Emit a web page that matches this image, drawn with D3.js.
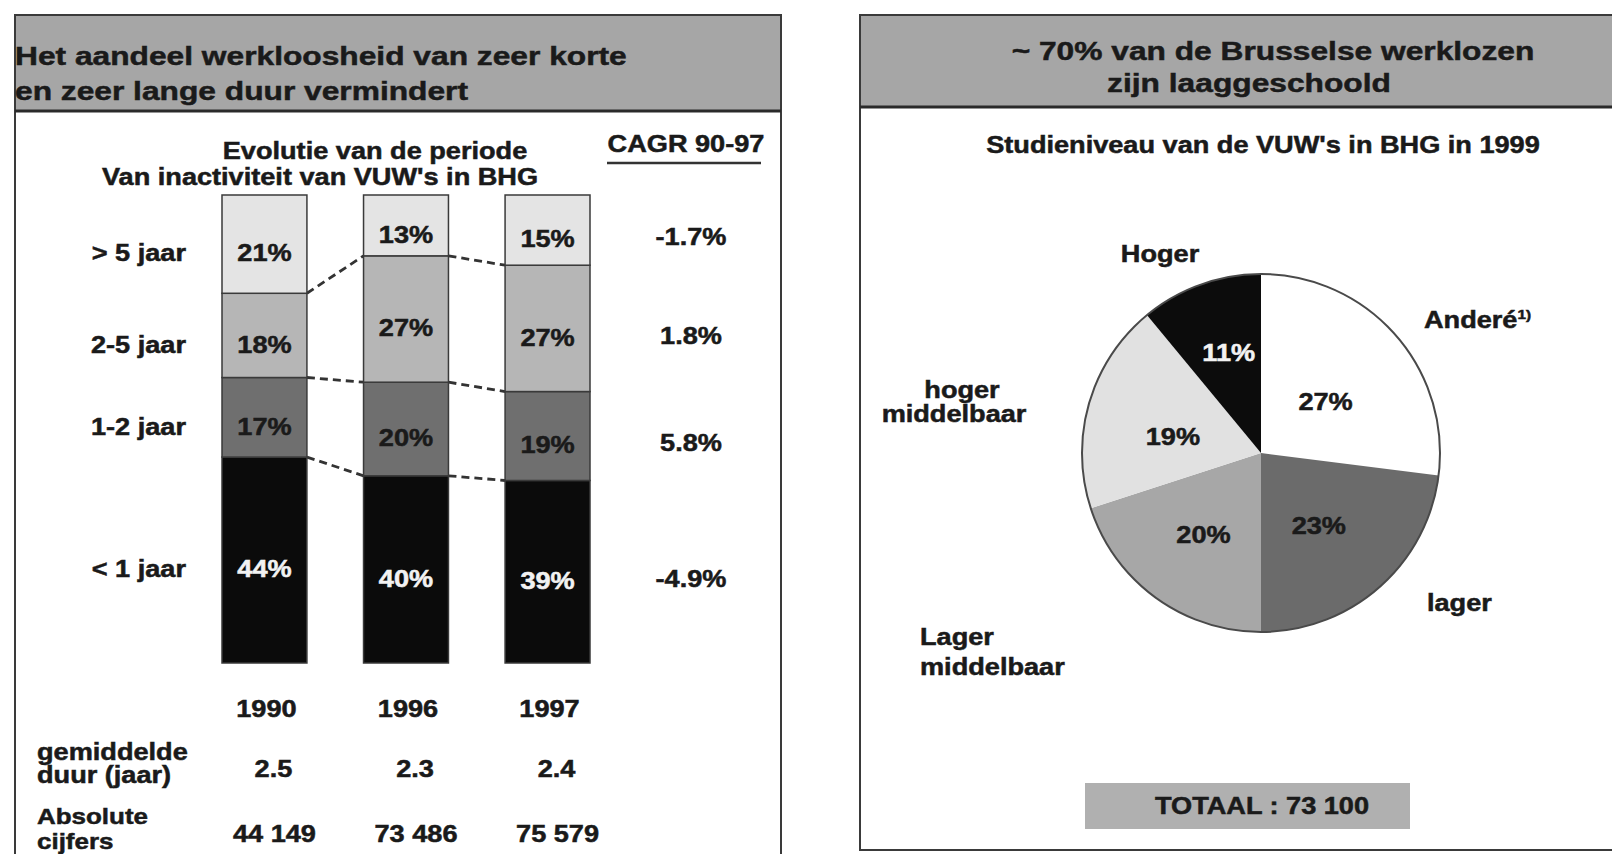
<!DOCTYPE html>
<html>
<head>
<meta charset="utf-8">
<script src="https://cdn.jsdelivr.net/npm/d3@7"></script>
<style>
  body { margin: 0; background: #fff; }
  text { font-family: 'Liberation Sans', Arial, sans-serif; font-weight: bold; }
</style>
</head>
<body>
<svg id="chart" width="1612" height="854"></svg>
<script>
// --- data ---
const years = ['1990', '1996', '1997'];
const durations = ['> 5 jaar', '2-5 jaar', '1-2 jaar', '< 1 jaar'];
const share1990 = [21, 18, 17, 44];
const share1996 = [13, 27, 20, 40];
const share1997 = [15, 27, 19, 39];
const cagr = ['-1.7%', '1.8%', '5.8%', '-4.9%'];
const avgDuration = ['2.5', '2.3', '2.4'];
const absolute = ['44 149', '73 486', '75 579'];

const eduLevels = ['Anderé', 'lager', 'Lager middelbaar', 'hoger middelbaar', 'Hoger'];
const eduShare = [27, 23, 20, 19, 11];
const total = '73 100';

// --- styles ---
const SX = 1.18; // scan text is wider than Arial
const barColor = {'> 5 jaar': '#e4e4e4', '2-5 jaar': '#b6b6b6', '1-2 jaar': '#6f6f6f', '< 1 jaar': '#0b0b0b'};
const pieColor = {'Anderé': '#ffffff', 'lager': '#6b6b6b', 'Lager middelbaar': '#a7a7a7', 'hoger middelbaar': '#e1e1e1', 'Hoger': '#0c0c0c'};
const ink = '#1a1a1a';

const svg = d3.select('#chart');

function label(g, x, y, s, opt = {}) {
    const fill = opt.fill || ink;
    return g.append('text')
        .attr('transform', `translate(${x},${y}) scale(${opt.sx || SX},1)`)
        .attr('text-anchor', opt.anchor || 'middle')
        .attr('dy', opt.dy || null)
        .style('font-size', (opt.size || 23) + 'px')
        .style('fill', fill)
        .style('stroke', fill).style('stroke-width', 0.5)
        .text(s);
}

// ---------- panel frames ----------
function panel(x0, x1, y1, headBottom) {
    svg.append('rect').attr('x', x0).attr('y', 15).attr('width', x1 - x0).attr('height', y1 - 15)
        .attr('fill', '#fff').attr('stroke', '#3a3a3a').attr('stroke-width', 2);
    svg.append('rect').attr('x', x0).attr('y', 15).attr('width', x1 - x0).attr('height', headBottom - 15)
        .attr('fill', '#a6a6a6').attr('stroke', '#3a3a3a').attr('stroke-width', 2);
    svg.append('line').attr('x1', x0).attr('x2', x1).attr('y1', headBottom).attr('y2', headBottom)
        .attr('stroke', '#2a2a2a').attr('stroke-width', 3);
}
panel(15, 781, 880, 111);
panel(860, 1640, 850, 107);

// ---------- left: stacked bars ----------
const left = svg.append('g');
label(left, 15, 65, 'Het aandeel werkloosheid van zeer korte', {anchor: 'start', size: 26, sx: 1.22});
label(left, 15, 100, 'en zeer lange duur vermindert', {anchor: 'start', size: 26, sx: 1.22});
label(left, 375, 159, 'Evolutie van de periode');
label(left, 320, 185, "Van inactiviteit van VUW's in BHG");
label(left, 686, 152, 'CAGR 90-97');
left.append('line').attr('x1', 607).attr('x2', 761).attr('y1', 163).attr('y2', 163)
    .attr('stroke', '#333').attr('stroke-width', 2.5);

const shares = [share1990, share1996, share1997];
const rows = years.map((yr, i) => {
    const r = {year: yr};
    durations.forEach((k, j) => { r[k] = shares[i][j]; });
    return r;
});
const stackKeys = durations.slice().reverse(); // '< 1 jaar' at the bottom
const series = d3.stack().keys(stackKeys)(rows);

const x = d3.scaleBand().domain(years).range([222, 590]).paddingInner(0.4).paddingOuter(0);
const y = d3.scaleLinear().domain([0, 100]).range([663, 195]);
const bw = x.bandwidth();
const mid = d => (y(d[0]) + y(d[1])) / 2 + 9;

// dashed connectors between bars
series.filter(s => s.key !== '> 5 jaar').forEach(s => {
    for (let i = 0; i < years.length - 1; i++) {
        left.append('line')
            .attr('x1', x(years[i]) + bw).attr('y1', y(s[i][1]))
            .attr('x2', x(years[i + 1])).attr('y2', y(s[i + 1][1]))
            .attr('stroke', '#333').attr('stroke-width', 2.8)
            .attr('stroke-dasharray', '8,5');
    }
});

series.forEach(s => {
    left.append('g').selectAll('rect').data(s).join('rect')
        .attr('x', d => x(d.data.year))
        .attr('y', d => y(d[1]))
        .attr('width', bw)
        .attr('height', d => y(d[0]) - y(d[1]))
        .attr('fill', barColor[s.key])
        .attr('stroke', '#3a3a3a').attr('stroke-width', 1.5);
    s.forEach(d => {
        label(left, x(d.data.year) + bw / 2, mid(d), d[1] - d[0] + '%',
            {dy: '0.36em', fill: s.key === '< 1 jaar' ? '#f2f2f2' : ink});
    });
});

// row labels (aligned with first bar) and CAGR (aligned with last bar)
series.forEach(s => {
    label(left, 186, mid(s[0]), s.key, {anchor: 'end', dy: '0.36em'});
    label(left, 691, mid(s[2]) - 2, cagr[durations.indexOf(s.key)], {dy: '0.36em'});
});

// table below the bars
years.forEach((yr, i) => {
    const cx = x(yr) + bw / 2;
    label(left, cx + 2, 717, yr);
    label(left, cx + 9, 777, avgDuration[i]);
    label(left, cx + 10, 842, absolute[i]);
});
label(left, 37, 760, 'gemiddelde', {anchor: 'start'});
label(left, 37, 783, 'duur (jaar)', {anchor: 'start'});
label(left, 37, 824, 'Absolute', {anchor: 'start', size: 22});
label(left, 37, 849, 'cijfers', {anchor: 'start', size: 22});

// ---------- right: pie ----------
const right = svg.append('g');
label(right, 1273, 60, '~ 70% van de Brusselse werklozen', {size: 26, sx: 1.22});
label(right, 1249, 92, 'zijn laaggeschoold', {size: 26, sx: 1.22});
label(right, 1263, 153, "Studieniveau van de VUW's in BHG in 1999");

const radius = 179;
const pieG = right.append('g').attr('transform', 'translate(1261,453)');
const arcs = d3.pie().sort(null).value(d => d.v)(eduLevels.map((k, i) => ({k, v: eduShare[i]})));
const arc = d3.arc().innerRadius(0).outerRadius(radius);

pieG.selectAll('path').data(arcs).join('path')
    .attr('d', arc)
    .attr('fill', d => pieColor[d.data.k])
    .attr('stroke', 'none');
pieG.append('circle').attr('r', radius).attr('fill', 'none').attr('stroke', '#4a4a4a').attr('stroke-width', 2);

// percentage labels: radius factor and angle nudge (degrees) per slice
const pctPlace = {
    'Anderé': {r: 0.46, da: 3},
    'lager': {r: 0.52, da: 3},
    'Lager middelbaar': {r: 0.56, da: -1},
    'hoger middelbaar': {r: 0.50, da: -6},
    'Hoger': {r: 0.59, da: 2}
};
arcs.forEach(d => {
    const p = pctPlace[d.data.k];
    const a = (d.startAngle + d.endAngle) / 2 + p.da * Math.PI / 180;
    const r = radius * p.r;
    label(pieG, r * Math.sin(a), -r * Math.cos(a), d.data.v + '%',
        {dy: '0.36em', fill: d.data.k === 'Hoger' ? '#f2f2f2' : ink});
});

// outer category labels, offsets from pie centre
const outerLabels = {
    'Anderé': {dx: 163, dy: -125, anchor: 'start', lines: ['Anderé']},
    'lager': {dx: 166, dy: 158, anchor: 'start', lines: ['lager']},
    'Lager middelbaar': {dx: -341, dy: 192, anchor: 'start', lines: ['Lager', 'middelbaar']},
    'hoger middelbaar': {dx: -307, dy: -55, anchor: 'middle', lines: ['hoger', 'middelbaar'], gap: 24},
    'Hoger': {dx: -101, dy: -191, anchor: 'middle', lines: ['Hoger']}
};
eduLevels.forEach(k => {
    const o = outerLabels[k];
    o.lines.forEach((ln, j) => {
        const t = label(pieG, o.dx + (o.anchor === 'middle' && j === 0 && o.lines.length > 1 ? 8 : 0),
            o.dy + j * (o.gap || 30), ln, {anchor: o.anchor});
        if (k === 'Anderé') {
            t.append('tspan').attr('dy', -9).style('font-size', '13px').text('1)');
        }
    });
});

// total box
right.append('rect').attr('x', 1085).attr('y', 783).attr('width', 325).attr('height', 46)
    .attr('fill', '#b0b0b0');
label(right, 1262, 814, 'TOTAAL : ' + total);
</script>
</body>
</html>
